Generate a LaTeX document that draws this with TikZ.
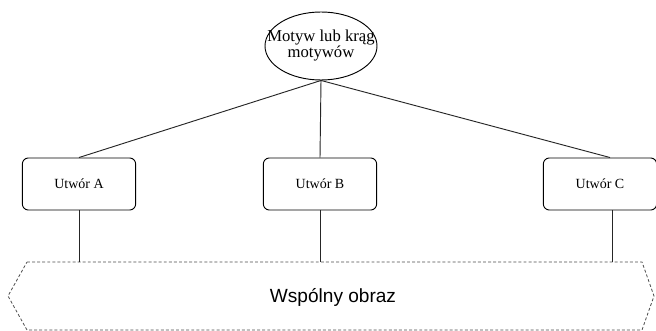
\documentclass[tikz,border=0pt]{standalone}
\usepackage{fontspec}
\setmainfont{Liberation Serif}
\newfontfamily\bannerfont{Liberation Sans}
\usetikzlibrary{shapes.geometric,positioning}

\tikzset{
	motif/.style = {ellipse, draw, line width=0.7pt, minimum width=84pt, minimum height=51pt,
		inner sep=0pt, font=\fontsize{12.5}{11.5}\selectfont},
	work/.style = {rectangle, rounded corners=4.5pt, draw, line width=0.7pt,
		minimum width=85pt, minimum height=39pt, font=\fontsize{10.5}{12}\selectfont},
	link/.style = {line width=0.7pt, draw=black!85},
	banner/.style = {draw=black!70, line width=0.6pt, dash pattern=on 2.2pt off 1.6pt},
}

\begin{document}
\begin{tikzpicture}[x=0.75pt, y=-0.75pt]
	\useasboundingbox (0,0) rectangle (656,331);

	\node [motif] (motyw) at (321,46)
		{\makebox[40pt]{\begin{tabular}{@{}c@{}}Motyw lub krąg\\motywów\end{tabular}}};
	\node [work] (a) at (79,184) {Utwór A};
	\node [work] (b) at (320,184) {Utwór B};
	\node [work] (c) at (600,184) {Utwór C};

	% wspolny obraz
	\draw [banner] (27,262) -- (642,262) -- (654,296) -- (642,330)
		-- (27,330) -- (8,296) -- cycle;
	\node [font=\bannerfont\fontsize{14.3}{16}\selectfont] (obraz) at (333,297) {Wspólny obraz};
	\coordinate (ta) at (79,262);
	\coordinate (tb) at (320,262);
	\coordinate (tc) at (612,262);

	\path [link] (motyw.south) -- (a.north)
		(motyw.south) -- (b.north)
		(motyw.south) -- ([xshift=7.5pt]c.north);
	\path [link] (a.south) -- (ta)
		(b.south) -- (tb)
		([xshift=9pt]c.south) -- (tc);
\end{tikzpicture}
\end{document}
